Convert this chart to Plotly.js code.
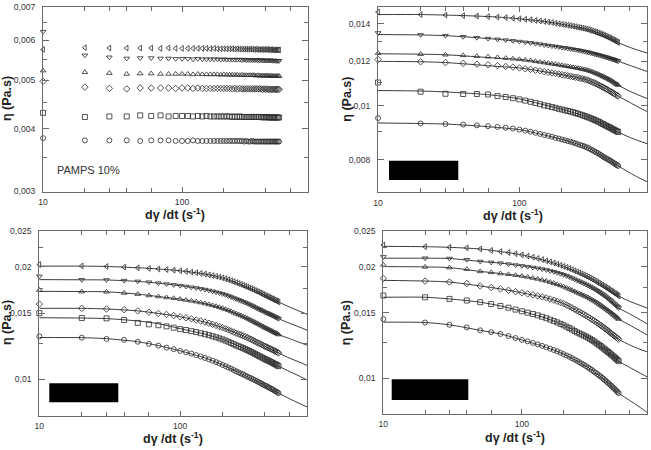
<!DOCTYPE html>
<html>
<head>
<meta charset="utf-8">
<script src="https://cdn.plot.ly/plotly-3.0.1.min.js"></script>
<style>
  html, body { margin: 0; padding: 0; background: #fff; }
  #chart { width: 651px; height: 450px; }
</style>
</head>
<body>
<div id="chart"></div>
<script>
// Shear rates of the measured points (s^-1)
const shearRate = [10,20,30,40,50,60,70,80,90,100,110,120,130,140,150,160,170,180,190,200,
  210,220,230,240,250,260,270,280,290,300,310,320,330,340,350,360,370,380,390,400,
  410,420,430,440,450,460,470,480,490,500];
// Shear rates at which the fitted curves are sampled (s^-1)
const fitRate = [10,20,30,50,70,100,150,200,300,400,500,600,700,800];

// Viscosities in mPa·s; series order: ◁ ▽ △ ◇ □ ○
// Panel A — PAMPS 10%
const A_left    = [5.75,5.80,5.79,5.79,5.79,5.79,5.78,5.79,5.78,5.78,5.78,5.78,5.78,5.78,5.78,5.77,5.78,5.77,5.77,5.77,5.77,5.77,5.77,5.76,5.77,5.76,5.76,5.76,5.76,5.76,5.76,5.76,5.75,5.76,5.75,5.75,5.75,5.75,5.75,5.75,5.75,5.75,5.74,5.75,5.74,5.74,5.74,5.74,5.74,5.74];
const A_down    = [6.24,5.60,5.55,5.52,5.53,5.53,5.52,5.52,5.51,5.51,5.51,5.50,5.51,5.50,5.50,5.50,5.50,5.50,5.49,5.50,5.49,5.49,5.49,5.49,5.49,5.49,5.48,5.49,5.48,5.48,5.48,5.48,5.48,5.48,5.48,5.47,5.48,5.47,5.47,5.47,5.47,5.47,5.47,5.47,5.46,5.47,5.46,5.46,5.46,5.46];
const A_up      = [5.22,5.18,5.16,5.14,5.15,5.15,5.14,5.14,5.14,5.14,5.14,5.13,5.14,5.13,5.13,5.13,5.13,5.13,5.12,5.13,5.12,5.12,5.12,5.12,5.12,5.11,5.12,5.11,5.11,5.11,5.11,5.11,5.11,5.10,5.11,5.10,5.10,5.10,5.10,5.10,5.10,5.10,5.09,5.10,5.09,5.09,5.09,5.09,5.09,5.09];
const A_diamond = [4.97,4.84,4.81,4.80,4.82,4.82,4.82,4.82,4.81,4.82,4.82,4.81,4.82,4.81,4.81,4.81,4.81,4.81,4.81,4.81,4.81,4.81,4.80,4.81,4.80,4.81,4.80,4.80,4.80,4.80,4.80,4.80,4.80,4.80,4.80,4.80,4.80,4.79,4.80,4.79,4.80,4.79,4.79,4.79,4.79,4.79,4.79,4.79,4.79,4.79];
const A_square  = [4.30,4.22,4.23,4.23,4.25,4.24,4.25,4.23,4.24,4.24,4.24,4.23,4.24,4.23,4.24,4.23,4.23,4.23,4.23,4.23,4.23,4.23,4.22,4.23,4.22,4.23,4.22,4.22,4.22,4.22,4.22,4.22,4.22,4.22,4.22,4.22,4.22,4.21,4.22,4.21,4.22,4.21,4.21,4.21,4.21,4.21,4.21,4.21,4.21,4.21];
const A_circle  = [3.83,3.79,3.79,3.79,3.78,3.79,3.79,3.79,3.78,3.78,3.78,3.79,3.78,3.78,3.78,3.78,3.78,3.78,3.78,3.78,3.78,3.78,3.78,3.78,3.78,3.78,3.78,3.77,3.78,3.77,3.77,3.78,3.77,3.77,3.77,3.77,3.77,3.77,3.77,3.77,3.77,3.77,3.77,3.77,3.77,3.77,3.77,3.77,3.77,3.77];

// Panel B
const B_left    = [14.71,14.55,14.52,14.49,14.46,14.43,14.40,14.37,14.33,14.30,14.27,14.24,14.20,14.17,14.14,14.11,14.08,14.04,14.01,13.98,13.95,13.92,13.90,13.87,13.84,13.81,13.78,13.76,13.73,13.70,13.67,13.63,13.60,13.56,13.53,13.49,13.46,13.42,13.39,13.35,13.31,13.27,13.24,13.20,13.16,13.12,13.08,13.05,13.01,12.97];
const B_down    = [13.49,13.38,13.34,13.28,13.23,13.18,13.14,13.10,13.06,13.02,12.98,12.95,12.91,12.88,12.84,12.81,12.78,12.76,12.73,12.70,12.68,12.66,12.63,12.61,12.59,12.57,12.54,12.52,12.49,12.47,12.45,12.42,12.40,12.37,12.35,12.33,12.30,12.28,12.25,12.23,12.21,12.19,12.16,12.14,12.12,12.10,12.08,12.05,12.03,12.01];
const B_up      = [12.41,12.36,12.33,12.30,12.26,12.23,12.20,12.16,12.13,12.10,12.07,12.04,12.00,11.97,11.94,11.91,11.88,11.86,11.83,11.80,11.78,11.76,11.73,11.71,11.69,11.67,11.65,11.62,11.60,11.58,11.55,11.52,11.49,11.45,11.42,11.39,11.35,11.32,11.28,11.25,11.21,11.18,11.14,11.11,11.07,11.03,10.99,10.95,10.92,10.88];
const B_diamond = [12.09,11.98,11.94,11.90,11.86,11.83,11.79,11.75,11.72,11.68,11.64,11.61,11.57,11.54,11.50,11.47,11.44,11.42,11.39,11.36,11.34,11.31,11.29,11.26,11.24,11.22,11.19,11.17,11.14,11.12,11.08,11.05,11.01,10.98,10.94,10.90,10.86,10.83,10.79,10.75,10.71,10.68,10.64,10.61,10.57,10.54,10.50,10.47,10.43,10.40];
const B_square  = [11.00,10.59,10.50,10.49,10.49,10.47,10.40,10.36,10.31,10.26,10.21,10.16,10.11,10.06,10.01,9.98,9.94,9.91,9.87,9.84,9.81,9.78,9.76,9.73,9.70,9.67,9.64,9.61,9.58,9.55,9.52,9.49,9.46,9.43,9.40,9.37,9.34,9.30,9.27,9.24,9.21,9.18,9.16,9.13,9.10,9.07,9.05,9.02,9.00,8.97];
const B_circle  = [9.50,9.29,9.27,9.25,9.22,9.19,9.16,9.13,9.10,9.06,9.02,8.98,8.94,8.90,8.86,8.83,8.80,8.76,8.73,8.70,8.67,8.64,8.62,8.59,8.56,8.53,8.50,8.48,8.45,8.42,8.39,8.35,8.32,8.28,8.25,8.22,8.18,8.15,8.11,8.08,8.05,8.02,8.00,7.97,7.94,7.91,7.88,7.86,7.83,7.80];
const B_fit_left    = [14.55,14.55,14.52,14.46,14.40,14.30,14.14,13.98,13.70,13.35,12.97,12.72,12.55,12.42];
const B_fit_down    = [13.40,13.38,13.34,13.23,13.14,13.02,12.84,12.70,12.47,12.23,12.01,11.81,11.65,11.51];
const B_fit_up      = [12.38,12.36,12.33,12.23,12.16,12.10,11.94,11.80,11.58,11.25,10.88,10.62,10.44,10.30];
const B_fit_diamond = [12.00,11.98,11.94,11.83,11.75,11.68,11.50,11.36,11.12,10.75,10.40,10.14,9.93,9.76];
const B_fit_square  = [10.64,10.62,10.58,10.50,10.42,10.28,10.03,9.85,9.55,9.24,8.97,8.78,8.65,8.55];
const B_fit_circle  = [9.31,9.29,9.27,9.20,9.14,9.06,8.86,8.70,8.42,8.08,7.80,7.59,7.43,7.31];

// Panel C
const C_left    = [20.27,20.10,20.04,19.96,19.88,19.80,19.73,19.66,19.59,19.52,19.44,19.36,19.28,19.20,19.12,19.03,18.94,18.86,18.77,18.68,18.57,18.47,18.36,18.26,18.15,18.05,17.95,17.85,17.75,17.65,17.56,17.47,17.38,17.29,17.20,17.12,17.03,16.95,16.86,16.78,16.71,16.64,16.56,16.49,16.42,16.36,16.29,16.23,16.16,16.10];
const C_down    = [18.86,18.46,18.44,18.37,18.28,18.19,18.08,17.98,17.89,17.80,17.72,17.63,17.55,17.46,17.38,17.29,17.20,17.10,17.01,16.92,16.82,16.71,16.61,16.50,16.40,16.31,16.22,16.13,16.04,15.95,15.86,15.77,15.68,15.59,15.50,15.42,15.35,15.27,15.20,15.12,15.06,15.00,14.94,14.88,14.82,14.76,14.70,14.64,14.58,14.52];
const C_up      = [17.33,17.16,17.14,17.02,16.90,16.76,16.65,16.55,16.47,16.39,16.30,16.21,16.13,16.04,15.95,15.86,15.77,15.68,15.59,15.50,15.40,15.29,15.19,15.08,14.98,14.89,14.81,14.72,14.64,14.55,14.46,14.38,14.29,14.21,14.12,14.05,13.97,13.90,13.82,13.75,13.69,13.63,13.57,13.51,13.45,13.39,13.34,13.28,13.23,13.17];
const C_diamond = [15.89,15.48,15.42,15.35,15.24,15.12,15.00,14.90,14.80,14.70,14.60,14.51,14.41,14.32,14.22,14.12,14.03,13.93,13.84,13.74,13.65,13.56,13.46,13.37,13.28,13.21,13.14,13.06,12.99,12.92,12.85,12.78,12.70,12.63,12.56,12.50,12.44,12.37,12.31,12.25,12.20,12.15,12.10,12.05,12.00,11.95,11.90,11.86,11.81,11.76];
const C_square  = [15.03,14.58,14.55,14.40,14.15,14.03,13.95,13.85,13.74,13.62,13.54,13.45,13.37,13.28,13.20,13.12,13.03,12.95,12.86,12.78,12.69,12.60,12.50,12.41,12.32,12.25,12.18,12.11,12.04,11.97,11.90,11.83,11.76,11.69,11.62,11.56,11.50,11.44,11.38,11.32,11.27,11.22,11.18,11.13,11.08,11.03,10.98,10.94,10.89,10.84];
const C_circle  = [13.02,12.92,12.82,12.75,12.60,12.43,12.30,12.15,12.03,11.91,11.81,11.71,11.60,11.50,11.40,11.30,11.21,11.11,11.02,10.92,10.84,10.75,10.67,10.58,10.50,10.43,10.36,10.30,10.23,10.16,10.10,10.05,9.99,9.94,9.88,9.83,9.78,9.72,9.67,9.62,9.58,9.53,9.49,9.44,9.40,9.36,9.31,9.27,9.22,9.18];
const C_fit_left    = [20.08,20.08,20.04,19.88,19.73,19.52,19.12,18.68,17.65,16.78,16.10,15.60,15.22,14.92];
const C_fit_down    = [18.48,18.46,18.44,18.28,18.08,17.80,17.38,16.92,15.95,15.12,14.52,14.12,13.80,13.52];
const C_fit_up      = [17.19,17.17,17.14,16.90,16.65,16.39,15.95,15.50,14.55,13.75,13.17,12.84,12.56,12.33];
const C_fit_diamond = [15.48,15.48,15.42,15.24,15.00,14.70,14.22,13.74,12.92,12.25,11.76,11.38,11.12,10.88];
const C_fit_square  = [14.61,14.58,14.53,14.32,14.08,13.66,13.20,12.78,11.97,11.32,10.84,10.48,10.20,9.95];
const C_fit_circle  = [12.93,12.92,12.84,12.60,12.30,11.91,11.40,10.92,10.16,9.62,9.18,8.86,8.62,8.42];

// Panel D
const D_left    = [22.86,22.62,22.53,22.46,22.30,22.10,21.95,21.80,21.65,21.50,21.34,21.19,21.03,20.88,20.72,20.58,20.44,20.30,20.16,20.02,19.89,19.75,19.62,19.48,19.35,19.23,19.11,18.99,18.87,18.75,18.63,18.51,18.39,18.27,18.15,18.04,17.93,17.82,17.71,17.60,17.50,17.40,17.30,17.20,17.10,17.01,16.92,16.83,16.74,16.65];
const D_down    = [21.24,21.06,21.02,20.86,20.64,20.52,20.42,20.30,20.18,20.08,19.98,19.88,19.78,19.68,19.58,19.46,19.35,19.23,19.12,19.00,18.87,18.74,18.61,18.48,18.35,18.24,18.12,18.01,17.89,17.78,17.66,17.55,17.43,17.32,17.20,17.08,16.97,16.85,16.74,16.62,16.50,16.38,16.26,16.14,16.02,15.91,15.80,15.68,15.57,15.45];
const D_up      = [20.20,19.95,19.86,19.68,19.40,19.28,19.15,19.05,18.95,18.85,18.74,18.62,18.51,18.39,18.28,18.15,18.03,17.90,17.78,17.65,17.52,17.39,17.26,17.13,17.00,16.90,16.80,16.70,16.60,16.50,16.39,16.28,16.17,16.06,15.95,15.84,15.73,15.62,15.51,15.40,15.30,15.20,15.10,15.00,14.90,14.80,14.71,14.61,14.52,14.42];
const D_diamond = [18.58,18.27,18.16,17.98,17.72,17.55,17.40,17.25,17.10,16.98,16.87,16.77,16.66,16.56,16.45,16.34,16.22,16.11,15.99,15.88,15.74,15.61,15.47,15.34,15.20,15.08,14.97,14.85,14.74,14.62,14.51,14.40,14.30,14.19,14.08,13.98,13.88,13.78,13.68,13.58,13.49,13.40,13.30,13.21,13.12,13.04,12.96,12.88,12.80,12.72];
const D_square  = [16.70,16.52,16.35,16.19,16.02,15.83,15.65,15.48,15.30,15.14,15.01,14.88,14.76,14.63,14.50,14.38,14.25,14.13,14.00,13.88,13.76,13.64,13.52,13.40,13.28,13.19,13.11,13.02,12.94,12.85,12.76,12.66,12.57,12.47,12.38,12.29,12.20,12.10,12.01,11.92,11.84,11.75,11.67,11.58,11.50,11.42,11.34,11.26,11.18,11.10];
const D_circle  = [14.42,14.12,13.92,13.70,13.45,13.30,13.15,12.98,12.82,12.67,12.56,12.44,12.33,12.21,12.10,12.00,11.90,11.80,11.70,11.60,11.50,11.41,11.31,11.22,11.12,11.03,10.94,10.86,10.77,10.68,10.59,10.51,10.42,10.34,10.25,10.17,10.09,10.01,9.93,9.85,9.77,9.69,9.62,9.54,9.46,9.39,9.32,9.24,9.17,9.10];
const D_fit_left    = [22.67,22.62,22.53,22.30,21.95,21.50,20.72,20.02,18.75,17.60,16.65,16.10,15.75,15.45];
const D_fit_down    = [21.06,21.06,21.02,20.64,20.42,20.08,19.58,19.00,17.78,16.62,15.45,14.90,14.42,14.01];
const D_fit_up      = [19.99,19.95,19.86,19.40,19.15,18.85,18.28,17.65,16.50,15.40,14.42,13.90,13.45,13.07];
const D_fit_diamond = [18.35,18.27,18.16,17.72,17.40,16.98,16.45,15.88,14.62,13.58,12.72,12.28,11.98,11.77];
const D_fit_square  = [16.52,16.52,16.35,16.02,15.65,15.14,14.50,13.88,12.85,11.92,11.10,10.68,10.35,10.07];
const D_fit_circle  = [14.15,14.12,13.92,13.45,13.15,12.67,12.10,11.60,10.68,9.85,9.10,8.70,8.37,8.08];

// Axis tick values (Pa·s) and their comma-decimal labels
const yTicksA = [0.003, 0.004, 0.005, 0.006, 0.007];
const yLabelsA = ['0,003', '0,004', '0,005', '0,006', '0,007'];
const yTicksB = [0.008, 0.01, 0.012, 0.014];
const yLabelsB = ['0,008', '0,01', '0,012', '0,014'];
const yTicksCD = [0.01, 0.015, 0.02, 0.025];
const yLabelsCD = ['0,01', '0,015', '0,02', '0,025'];
const xTicks = [10, 100];
const xLabels = ['10', '100'];

const W = 651, H = 450;
const symbols = ['triangle-left-open', 'triangle-down-open', 'triangle-up-open',
                 'diamond-open', 'square-open', 'circle-open'];
const FONT = '"Liberation Sans", Arial, Helvetica, sans-serif';
const INK = '#2a2a2a';
const FRAME = '#6a6a6a';

// plot boxes in pixels: left, right, top, bottom; ytx = centre of the η title
const panels = [
  { box: [43, 307.5, 6.5, 191.5], ytx: 7, yr: [0.003, 0.007], yt: yTicksA, yl: yLabelsA,
    ym: [0.0035, 0.0045, 0.0055, 0.0065],
    series: [A_left, A_down, A_up, A_diamond, A_square, A_circle], fits: null },
  { box: [378, 647, 7, 192.4], ytx: 347, yr: [0.007, 0.015], yt: yTicksB, yl: yLabelsB,
    ym: [0.009, 0.011, 0.013],
    series: [B_left, B_down, B_up, B_diamond, B_square, B_circle],
    fits: [B_fit_left, B_fit_down, B_fit_up, B_fit_diamond, B_fit_square, B_fit_circle] },
  { box: [39.3, 307.3, 230.5, 415.5], ytx: 7, yr: [0.008, 0.025], yt: yTicksCD, yl: yLabelsCD,
    ym: [0.0125, 0.0175, 0.0225],
    series: [C_left, C_down, C_up, C_diamond, C_square, C_circle],
    fits: [C_fit_left, C_fit_down, C_fit_up, C_fit_diamond, C_fit_square, C_fit_circle] },
  { box: [383.3, 647, 230.5, 414], ytx: 346, yr: [0.008, 0.025], yt: yTicksCD, yl: yLabelsCD,
    ym: [0.0125, 0.0175, 0.0225],
    series: [D_left, D_down, D_up, D_diamond, D_square, D_circle],
    fits: [D_fit_left, D_fit_down, D_fit_up, D_fit_diamond, D_fit_square, D_fit_circle] }
];

const toPaScale = v => v / 1000;
const traces = [];
const layout = {
  width: W, height: H,
  margin: { l: 0, r: 0, t: 0, b: 0 },
  paper_bgcolor: '#fff', plot_bgcolor: '#fff',
  showlegend: false,
  annotations: [], shapes: []
};

const tickFont = { family: FONT, size: 8.6, color: '#333' };

panels.forEach((p, i) => {
  const n = i === 0 ? '' : String(i + 1);
  const xa = 'x' + n, ya = 'y' + n;
  const [l, r, t, b] = p.box;

  layout['xaxis' + n] = {
    type: 'log', domain: [l / W, r / W], anchor: ya,
    range: [0.9995, Math.log10(800)],
    showline: true, linecolor: FRAME, linewidth: 1, mirror: 'ticks',
    ticks: 'inside', ticklen: 5, tickwidth: 1, tickcolor: FRAME,
    tickmode: 'array', tickvals: xTicks, ticktext: xLabels,
    tickfont: tickFont, ticklabelstandoff: 2,
    minor: { tickmode: 'array', tickvals: [20, 30, 40, 60, 200, 400, 600],
             ticks: 'inside', ticklen: 4, tickwidth: 1, tickcolor: FRAME, showgrid: false },
    showgrid: false, zeroline: false, fixedrange: true
  };
  layout['yaxis' + n] = {
    type: 'log', domain: [1 - b / H, 1 - t / H], anchor: xa,
    range: [Math.log10(p.yr[0]) - 0.0003, Math.log10(p.yr[1]) + 0.0003],
    showline: true, linecolor: FRAME, linewidth: 1, mirror: 'ticks',
    ticks: 'inside', ticklen: 6, tickwidth: 1, tickcolor: FRAME,
    tickmode: 'array', tickvals: p.yt, ticktext: p.yl,
    tickfont: tickFont, ticklabelstandoff: 5,
    minor: { tickmode: 'array', tickvals: p.ym,
             ticks: 'inside', ticklen: 4, tickwidth: 1, tickcolor: FRAME, showgrid: false },
    showgrid: false, zeroline: false, fixedrange: true
  };

  if (p.fits) {
    p.fits.forEach(f => traces.push({
      type: 'scatter', mode: 'lines', x: fitRate, y: f.map(toPaScale),
      xaxis: xa, yaxis: ya, hoverinfo: 'skip',
      line: { color: '#3a3a3a', width: 1, shape: 'spline', smoothing: 0.7 }
    }));
  }
  p.series.forEach((s, k) => traces.push({
    type: 'scatter', mode: 'markers', x: shearRate, y: s.map(toPaScale),
    xaxis: xa, yaxis: ya, cliponaxis: false,
    marker: { symbol: symbols[k], size: 5, color: INK, line: { width: 0.8, color: INK } }
  }));

  // axis titles
  const cx = (l + r) / 2 / W;
  layout.annotations.push({
    xref: 'paper', yref: 'paper', x: cx, y: 1 - (b + 22.5) / H,
    xanchor: 'center', yanchor: 'middle', showarrow: false,
    text: '<b>dγ /dt (s<sup>-1</sup>)</b>',
    font: { family: FONT, size: 12.5, color: '#222' }
  });
  layout.annotations.push({
    xref: 'paper', yref: 'paper', x: p.ytx / W, y: 1 - ((t + b) / 2) / H,
    xanchor: 'center', yanchor: 'middle', showarrow: false, textangle: -90,
    text: '<b>η (Pa.s)</b>',
    font: { family: FONT, size: 12.5, color: '#222' }
  });
});

layout.annotations.push({
  xref: 'paper', yref: 'paper', x: 55 / W, y: 1 - 170 / H,
  xanchor: 'left', yanchor: 'middle', showarrow: false,
  text: 'PAMPS 10%', font: { family: FONT, size: 11, color: '#333' }
});

// solid black boxes over panels B, C and D
[[389, 458.3, 160.7, 180], [49.3, 118.3, 383.3, 402.3], [391.7, 468.3, 379.3, 400]].forEach(bx => {
  layout.shapes.push({
    type: 'rect', xref: 'paper', yref: 'paper',
    x0: bx[0] / W, x1: bx[1] / W, y0: 1 - bx[3] / H, y1: 1 - bx[2] / H,
    fillcolor: '#000', line: { width: 0 }
  });
});

Plotly.newPlot('chart', traces, layout, { staticPlot: true, displayModeBar: false });
</script>
</body>
</html>
